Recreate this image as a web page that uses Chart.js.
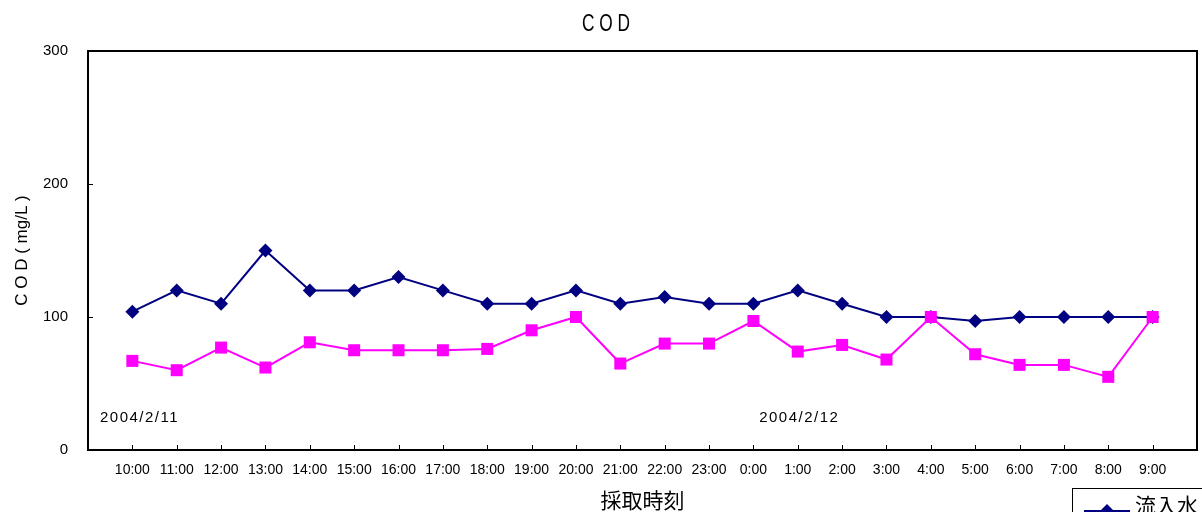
<!DOCTYPE html>
<html>
<head>
<meta charset="utf-8">
<script src="https://cdn.jsdelivr.net/npm/chart.js@4.4.1/dist/chart.umd.min.js"></script>
<style>
  body { margin: 0; background: #fff; }
  canvas { display: block; }
</style>
</head>
<body>
<canvas id="codChart" width="1202" height="512"></canvas>
<script>
// sampling times (2004/2/11 10:00 - 2004/2/12 9:00)
var times = ['10:00', '11:00', '12:00', '13:00', '14:00', '15:00', '16:00', '17:00',
  '18:00', '19:00', '20:00', '21:00', '22:00', '23:00', '0:00', '1:00', '2:00',
  '3:00', '4:00', '5:00', '6:00', '7:00', '8:00', '9:00'];

var inflow = [104, 120, 110, 150, 120, 120, 130, 120, 110, 110, 120, 110,
  115, 110, 110, 120, 110, 100, 100, 97, 100, 100, 100, 100];

var treated = [67, 60, 77, 62, 81, 75, 75, 75, 76, 90, 100, 65,
  80, 80, 97, 74, 79, 68, 100, 72, 64, 64, 55, 100];

var seriesNames = ['流入水', '処理水'];
var yTicks = [0, 100, 200, 300];
var dateNotes = ['2004/2/11', '2004/2/12'];

var navy = '#000080';
var magenta = '#FF00FF';

function toPoints(arr) {
  var pts = [];
  for (var i = 0; i < arr.length; i++) {
    pts.push({ x: i, y: arr[i] });
  }
  return pts;
}

// frame, inner tick marks, date notes, title and the (cut off) legend box
var decor = {
  id: 'decor',
  afterDraw: function(chart) {
    var ctx = chart.ctx;
    var a = chart.chartArea;
    var xs = chart.scales.x;
    var ys = chart.scales.y;
    ctx.save();

    // plot frame
    ctx.strokeStyle = '#000';
    ctx.lineWidth = 2;
    ctx.strokeRect(a.left, a.top, a.right - a.left, a.bottom - a.top);

    // tick marks pointing inward
    ctx.lineWidth = 1;
    ctx.beginPath();
    for (var i = 0; i < times.length; i++) {
      var px = Math.round(xs.getPixelForValue(i)) + 0.5;
      ctx.moveTo(px, a.bottom);
      ctx.lineTo(px, a.bottom - 5);
    }
    for (var j = 1; j < yTicks.length - 1; j++) {
      var py = Math.round(ys.getPixelForValue(yTicks[j])) + 0.5;
      ctx.moveTo(a.left, py);
      ctx.lineTo(a.left + 5, py);
    }
    ctx.stroke();

    // date notes
    ctx.fillStyle = '#000';
    ctx.font = '15px "Liberation Sans", Arial, sans-serif';
    ctx.letterSpacing = '1.5px';
    ctx.textBaseline = 'middle';
    ctx.textAlign = 'left';
    ctx.fillText(dateNotes[0], xs.getPixelForValue(-0.73), ys.getPixelForValue(24));
    ctx.fillText(dateNotes[1], xs.getPixelForValue(14.13), ys.getPixelForValue(24));
    ctx.letterSpacing = '0px';

    // title
    ctx.save();
    ctx.translate(606, 24);
    ctx.scale(0.72, 1);
    ctx.font = '24px "Liberation Sans", Arial, sans-serif';
    ctx.textAlign = 'center';
    ctx.fillText('C O D', 0, 0);
    ctx.restore();

    // legend box
    ctx.fillStyle = '#fff';
    ctx.fillRect(1072.5, 488.5, 200, 60);
    ctx.strokeStyle = '#000';
    ctx.lineWidth = 1;
    ctx.strokeRect(1072.5, 488.5, 200, 60);
    ctx.strokeStyle = navy;
    ctx.lineWidth = 2;
    ctx.beginPath();
    ctx.moveTo(1084, 511);
    ctx.lineTo(1130, 511);
    ctx.stroke();
    ctx.fillStyle = navy;
    ctx.beginPath();
    ctx.moveTo(1107, 504);
    ctx.lineTo(1114, 511);
    ctx.lineTo(1107, 518);
    ctx.lineTo(1100, 511);
    ctx.closePath();
    ctx.fill();
    ctx.fillStyle = '#000';
    ctx.font = '21px "Noto Sans CJK JP", sans-serif';
    ctx.textBaseline = 'top';
    ctx.fillText(chart.data.datasets[0].label, 1135, 495);

    ctx.restore();
  }
};

var chartdata = {
  datasets: [
    {
      label: seriesNames[0],
      data: toPoints(inflow),
      borderColor: navy,
      backgroundColor: navy,
      borderWidth: 2,
      pointStyle: 'rectRot',
      pointRadius: 7,
      pointBorderWidth: 0,
      tension: 0,
      order: 1
    },
    {
      label: seriesNames[1],
      data: toPoints(treated),
      borderColor: magenta,
      backgroundColor: magenta,
      borderWidth: 2,
      pointStyle: 'rect',
      pointRadius: 8.5,
      pointBorderWidth: 0,
      tension: 0,
      order: 0
    }
  ]
};

var options = {
  responsive: false,
  animation: false,
  events: [],
  layout: { autoPadding: false, padding: { top: 51, right: 5, bottom: 0, left: 0 } },
  plugins: {
    legend: { display: false },
    title: { display: false },
    tooltip: { enabled: false }
  },
  scales: {
    x: {
      type: 'linear',
      min: -1,
      max: times.length,
      grid: { display: false, drawTicks: false },
      border: { display: false },
      afterFit: function(scale) {
        scale.height = 62;
        scale.paddingLeft = 0;
        scale.paddingRight = 0;
      },
      afterBuildTicks: function(scale) {
        var t = [];
        for (var i = -1; i <= times.length; i++) t.push({ value: i });
        scale.ticks = t;
      },
      ticks: {
        autoSkip: false,
        maxRotation: 0,
        padding: 12,
        color: '#000',
        font: { family: '"Liberation Sans", Arial, sans-serif', size: 14 },
        callback: function(value) {
          return times[value] !== undefined ? times[value] : '';
        }
      },
      title: {
        display: true,
        text: '採取時刻',
        color: '#000',
        font: { family: '"Noto Sans CJK JP", sans-serif', size: 21, lineHeight: 1 },
        padding: { top: 0, bottom: 1 }
      }
    },
    y: {
      min: 0,
      max: 300,
      grid: { display: false, drawTicks: false },
      border: { display: false },
      afterFit: function(scale) { scale.width = 88; },
      ticks: {
        stepSize: 100,
        padding: 20,
        color: '#000',
        font: { family: '"Liberation Sans", Arial, sans-serif', size: 15 }
      },
      title: {
        display: true,
        text: 'C O D ( mg/L )',
        color: '#000',
        font: { family: '"Liberation Sans", Arial, sans-serif', size: 17 },
        padding: { top: 12, bottom: 0 }
      }
    }
  }
};

var ctx = document.getElementById('codChart');
var lineGraph = new Chart(ctx, {
  type: 'line',
  data: chartdata,
  options: options,
  plugins: [decor]
});
</script>
</body>
</html>
